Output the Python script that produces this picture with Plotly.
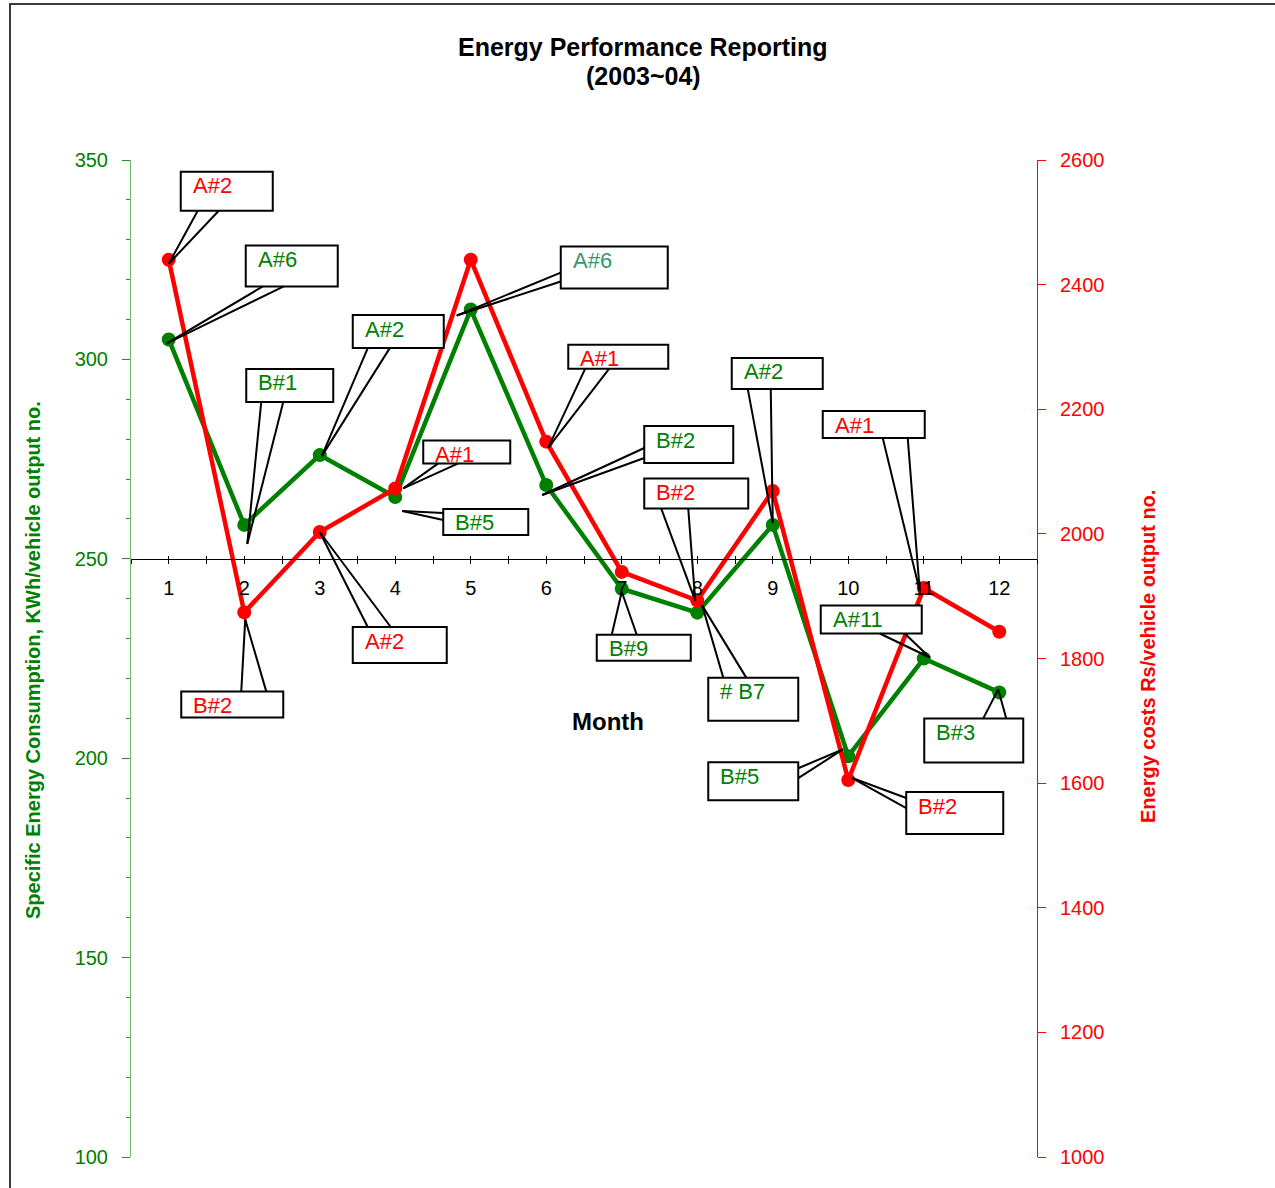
import plotly.graph_objects as go

# ---------------- data ----------------
months = list(range(1, 13))
month_labels = [str(m) for m in months]
sec_values = [305, 258.5, 276, 265.5, 312.5, 268.5, 242.5, 236.5, 258.5, 200.5, 225, 216.5]   # KWh / vehicle (left)
cost_values = [2440, 1874, 2003, 2073, 2440, 2148, 1939, 1893, 2069, 1605, 1913, 1843]       # Rs / vehicle (right)

GREEN = "#008000"
RED = "#ff0000"
TEAL = "#339966"

# callouts: series, month, label, text colour,
# box (x0, x1, ytop, ybottom) in px relative to the point (y downward),
# wedge base points and tip, in px relative to the point (y downward)
callouts = [
    ("cost", 1, "A#2", RED, (12, 104, -88, -49), (29, -49), (50, -49), (0, 4)),
    ("sec", 1, "A#6", GREEN, (77, 169, -94, -53), (94, -53), (115, -53), (-2, 4)),
    ("sec", 2, "B#1", GREEN, (2, 89, -156, -123), (17, -123), (39, -123), (3, 19)),
    ("sec", 3, "A#2", GREEN, (33, 124, -140, -107), (48, -107), (70, -107), (2, 1)),
    ("cost", 4, "A#1", RED, (28, 115, -48, -25), (43, -25), (63, -25), (8, 0)),
    ("sec", 4, "B#5", GREEN, (48, 133, 12, 38), (48, 16), (48, 23), (7, 14)),
    ("sec", 5, "A#6", TEAL, (90, 197, -63, -21), (90, -37), (90, -28), (-14, 6)),
    ("cost", 6, "A#1", RED, (22, 122, -97, -73), (39, -73), (63, -73), (2, 6)),
    ("sec", 6, "B#2", GREEN, (98, 187, -59, -22), (98, -37), (98, -27), (-4, 10)),
    ("cost", 8, "B#2", RED, (-53, 51, -122, -92), (-36, -92), (-9, -92), (-2, 0)),
    ("sec", 9, "A#2", GREEN, (-41, 50, -167, -136), (-25, -136), (-2, -136), (0, -2)),
    ("cost", 11, "A#1", RED, (-101, 1, -177, -150), (-41, -150), (-16, -150), (-4, 3)),
    ("sec", 11, "A#11", GREEN, (-103, -2, -53, -25), (-44, -25), (-19, -25), (6, -1)),
    ("sec", 8, "# B7", GREEN, (11, 101, 65, 108), (26, 65), (49, 65), (5, -7)),
    ("sec", 12, "B#3", GREEN, (-75, 24, 26, 70), (-16, 26), (7, 26), (-1, -3)),
    ("sec", 10, "B#5", GREEN, (-140, -50, 6, 44), (-50, 12), (-50, 22), (-5, -7)),
    ("cost", 10, "B#2", RED, (58, 155, 12, 54), (58, 18), (58, 28), (4, -2)),
    ("cost", 2, "B#2", RED, (-63, 39, 79, 105), (-3, 79), (22, 79), (1, 7)),
    ("cost", 3, "A#2", RED, (33, 127, 95, 131), (48, 95), (71, 95), (0, 0)),
    ("sec", 7, "B#9", GREEN, (-25, 69, 46, 72), (-10, 46), (15, 46), (0, 3)),
]

FONT = "Liberation Sans, Arial, sans-serif"

fig = go.Figure()

fig.add_trace(go.Scatter(
    x=months, y=sec_values, mode="lines+markers", yaxis="y",
    line=dict(color=GREEN, width=4.5), marker=dict(color=GREEN, size=14),
    showlegend=False, hoverinfo="skip"))
fig.add_trace(go.Scatter(
    x=months, y=cost_values, mode="lines+markers", yaxis="y2",
    line=dict(color=RED, width=4.5), marker=dict(color=RED, size=14),
    showlegend=False, hoverinfo="skip"))
# helper trace so that the upper-tick x axis is drawn
fig.add_trace(go.Scatter(x=months, y=[None] * len(months), xaxis="x2", yaxis="y",
                         showlegend=False, hoverinfo="skip"))

shapes = []
annotations = []
for series, m, label, col, box, b1, b2, tip in callouts:
    idx = months.index(m)
    if series == "sec":
        v, yref = sec_values[idx], "y"
    else:
        v, yref = cost_values[idx], "y2"
    common = dict(xref="x", yref=yref, xsizemode="pixel", ysizemode="pixel",
                  xanchor=m, yanchor=v, layer="above")
    bx0, bx1, by0, by1 = box
    shapes.append(dict(type="rect", x0=bx0, x1=bx1, y0=-by0, y1=-by1,
                       fillcolor="white", line=dict(color="black", width=2), **common))
    for b in (b1, b2):
        shapes.append(dict(type="line", x0=b[0], y0=-b[1], x1=tip[0], y1=-tip[1],
                           line=dict(color="black", width=2), **common))
    annotations.append(dict(xref="x", yref=yref, x=m, y=v, text=label, showarrow=False,
                            xanchor="left", yanchor="middle",
                            xshift=bx0 + 10, yshift=-(by0 + 14),
                            font=dict(family=FONT, size=22, color=col)))

# outer chart border
shapes.append(dict(type="rect", xref="paper", yref="paper",
                   x0=(10 - 131) / 906, x1=(1300 - 131) / 906,
                   y0=(1157 - 1210) / 997, y1=(1157 - 4) / 997,
                   line=dict(color="#3a3a3a", width=2), fillcolor="rgba(0,0,0,0)", layer="below"))

title_lines = ["Energy Performance Reporting", "(2003~04)"]
title_y_px = [47, 76]
for txt, ypx in zip(title_lines, title_y_px):
    annotations.append(dict(xref="paper", yref="paper", x=(643 - 131) / 906, y=(1157 - ypx) / 997,
                            text="<b>" + txt + "</b>", showarrow=False,
                            xanchor="center", yanchor="middle",
                            font=dict(family=FONT, size=25, color="black")))

annotations += [
    dict(xref="paper", yref="paper", x=(608 - 131) / 906, y=(1157 - 721) / 997,
         text="<b>Month</b>", showarrow=False, xanchor="center", yanchor="middle",
         font=dict(family=FONT, size=24, color="black")),
    dict(xref="paper", yref="paper", x=(33 - 131) / 906, y=(1157 - 660) / 997,
         text="<b>Specific Energy Consumption, KWh/vehicle output no.</b>", showarrow=False,
         textangle=-90, xanchor="center", yanchor="middle",
         font=dict(family=FONT, size=20, color=GREEN)),
    dict(xref="paper", yref="paper", x=(1148 - 131) / 906, y=(1157 - 657) / 997,
         text="<b>Energy costs Rs/vehicle output no.</b>", showarrow=False,
         textangle=-90, xanchor="center", yanchor="middle",
         font=dict(family=FONT, size=20, color=RED)),
]

fig.update_layout(
    width=1275, height=1188,
    margin=dict(l=131, r=238, t=160, b=31, pad=0),
    paper_bgcolor="white", plot_bgcolor="white",
    font=dict(family=FONT),
    showlegend=False,
    xaxis=dict(
        range=[0.5, 12.5], tickmode="array", tickvals=months, ticktext=month_labels,
        anchor="free", position=0.6, showline=True, linecolor="black", linewidth=1,
        ticks="outside", ticklen=4, tickcolor="black", tickwidth=1,
        minor=dict(tickmode="linear", tick0=0.5, dtick=0.5, ticks="outside",
                   ticklen=4, tickcolor="black", tickwidth=1),
        showgrid=False, zeroline=False, ticklabelstandoff=7,
        tickfont=dict(family=FONT, size=20, color="black")),
    xaxis2=dict(
        range=[0.5, 12.5], overlaying="x", anchor="free", position=0.6,
        tickmode="linear", tick0=0.5, dtick=0.5, ticks="inside", ticklen=3,
        tickcolor="black", tickwidth=1, showticklabels=False, showline=False,
        showgrid=False, zeroline=False),
    yaxis=dict(
        range=[100, 350], tickmode="linear", tick0=100, dtick=50,
        showline=True, linecolor="#6cbf6c", linewidth=1,
        ticks="outside", ticklen=8, tickcolor="#2e8b2e", tickwidth=1,
        minor=dict(dtick=10, ticks="outside", ticklen=4, tickcolor="#2e8b2e"),
        showgrid=False, zeroline=False, ticklabelstandoff=10,
        tickfont=dict(family=FONT, size=20, color=GREEN)),
    yaxis2=dict(
        range=[1000, 2600], tickmode="linear", tick0=1000, dtick=200,
        overlaying="y", side="right", anchor="x",
        showline=True, linecolor=RED, linewidth=1,
        ticks="outside", ticklen=8, tickcolor=RED, tickwidth=1,
        showgrid=False, zeroline=False, ticklabelstandoff=10,
        tickfont=dict(family=FONT, size=20, color=RED)),
    shapes=shapes,
    annotations=annotations,
)

fig.write_html("out.html")
